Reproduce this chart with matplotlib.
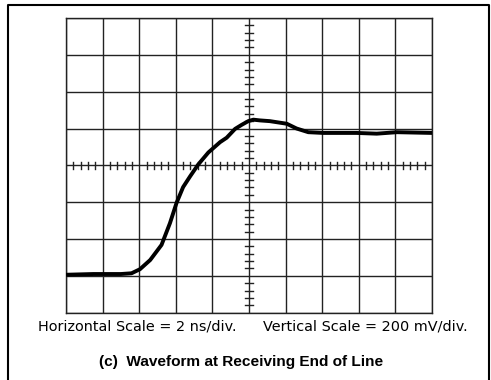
import numpy as np
import matplotlib.pyplot as plt
from matplotlib.lines import Line2D

# trace, in divisions (x: 2 ns/div, y: 200 mV/div)
t_div = [0.0, 0.75, 1.5, 1.79, 2.02, 2.30, 2.61, 2.84, 3.02, 3.20, 3.39, 3.61,
         3.89, 4.21, 4.39, 4.62, 4.80, 4.98, 5.12, 5.30, 5.57, 6.03, 6.30,
         6.62, 7.03, 7.94, 8.49, 9.04, 10.0]
v_div = [1.03, 1.05, 1.05, 1.07, 1.18, 1.43, 1.84, 2.43, 2.98, 3.41, 3.70, 4.02,
         4.35, 4.63, 4.75, 4.99, 5.10, 5.20, 5.24, 5.22, 5.20, 5.13, 5.00,
         4.90, 4.88, 4.88, 4.86, 4.90, 4.88]

h_label = "Horizontal Scale = 2 ns/div."
v_label = "Vertical Scale = 200 mV/div."
caption = "(c)  Waveform at Receiving End of Line"

fig = plt.figure(figsize=(4.91, 3.80), dpi=100)
ax = fig.add_axes([66 / 491, 1 - 312.7 / 380, 366 / 491, 294.7 / 380])
ax.set_xlim(0, 10)
ax.set_ylim(0, 8)
ax.set_xticks(range(11))
ax.set_yticks(range(9))
ax.tick_params(length=0, labelbottom=False, labelleft=False)
ax.grid(True, color="#222222", linewidth=1.0)
for s in ax.spines.values():
    s.set_linewidth(1.0)
    s.set_color("#222222")

# graticule minor ticks along the centre lines
minor = np.arange(0.2, 10, 0.2)
minor = minor[np.abs(minor - np.round(minor)) > 0.01]
for x in minor:
    ax.plot([x, x], [3.91, 4.09], color="#222222", lw=1.0)
minor_y = np.arange(0.2, 8, 0.2)
minor_y = minor_y[np.abs(minor_y - np.round(minor_y)) > 0.01]
for y in minor_y:
    ax.plot([4.9, 5.1], [y, y], color="#222222", lw=1.0)

ax.plot(t_div, v_div, color="black", lw=2.8, solid_capstyle="round",
        solid_joinstyle="round", zorder=5)

# frame around the whole figure (open at the bottom)
fx0, fx1, fy1 = 8 / 491, 489 / 491, 1 - 5 / 380
fig.add_artist(Line2D([fx0, fx0, fx1, fx1], [0, fy1, fy1, 0], color="black", lw=1.5))

fig.text(137.5 / 491, 1 - 327 / 380, h_label, ha="center", va="center",
         fontsize=10.4, family="DejaVu Sans")
fig.text(365.5 / 491, 1 - 327 / 380, v_label, ha="center", va="center",
         fontsize=10.4, family="DejaVu Sans")
fig.text(241 / 491, 1 - 362 / 380, caption, ha="center", va="center",
         fontsize=11.1, fontweight="bold", family="Liberation Sans")

fig.savefig("out.png", dpi=100)
